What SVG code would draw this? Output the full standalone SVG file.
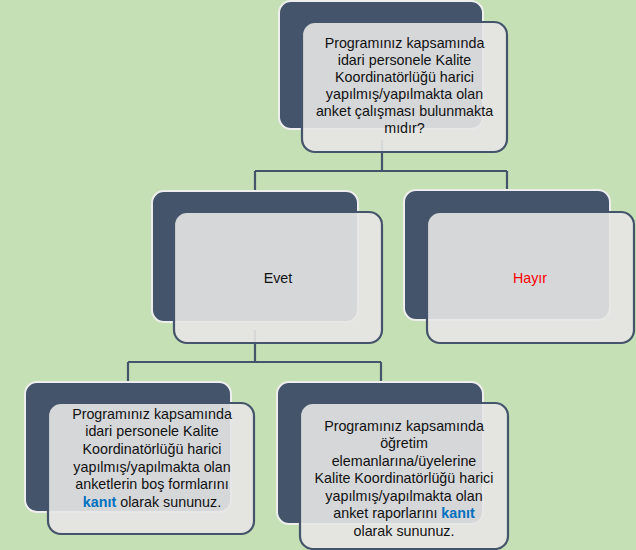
<svg xmlns="http://www.w3.org/2000/svg" width="636" height="550" viewBox="0 0 636 550">
<style>
.bg{fill:#c5e0b4}
.back{fill:#44546a;stroke:#eeeeee;stroke-width:2}
.front{fill:#e7e6e6;fill-opacity:0.9;stroke:#44546a;stroke-width:2.2}
.conn{fill:none;stroke:#44546a;stroke-width:2.2}
text{font-family:"Liberation Sans",Arial,sans-serif;font-size:14.3px;fill:#111;text-anchor:middle}
.k{fill:#0070c0;font-weight:bold}
.red{fill:#ff0000}
</style>
<rect class="bg" x="0" y="0" width="636" height="550"/>
<g id="connectors">
<path class="conn" d="M382,140 V171 M255,171 H507 M255,171 V192 M507,171 V191"/>
<path class="conn" d="M255,330 V362 M128,362 H381 M128,362 V383 M381,362 V383"/>
</g>
<g id="n-root">
<rect class="back" x="279" y="1" width="204" height="128" rx="12"/>
<rect class="front" x="302" y="22" width="205" height="130" rx="13"/>
<text x="404.5" y="47.7">Programınız kapsamında</text>
<text x="404.5" y="64.8">idari personele Kalite</text>
<text x="404.5" y="81.9">Koordinatörlüğü harici</text>
<text x="404.5" y="99">yapılmış/yapılmakta olan</text>
<text x="404.5" y="116.2">anket çalışması bulunmakta</text>
<text x="404.5" y="133.3">mıdır?</text>
</g>
<g id="n-evet">
<rect class="back" x="152" y="191" width="206" height="131" rx="12"/>
<rect class="front" x="174" y="212" width="208" height="131" rx="13"/>
<text x="278" y="283">Evet</text>
</g>
<g id="n-hayir">
<rect class="back" x="404" y="190" width="206" height="130" rx="12"/>
<rect class="front" x="427" y="212" width="207" height="131" rx="13"/>
<text class="red" x="530" y="283">Hayır</text>
</g>
<g id="n-left">
<rect class="back" x="25" y="382" width="206" height="130" rx="12"/>
<rect class="front" x="48" y="403" width="206" height="131" rx="13"/>
<text x="152" y="418.7">Programınız kapsamında</text>
<text x="152" y="436.3">idari personele Kalite</text>
<text x="152" y="453.9">Koordinatörlüğü harici</text>
<text x="152" y="471.5">yapılmış/yapılmakta olan</text>
<text x="152" y="489.1">anketlerin boş formlarını</text>
<text x="152" y="506.7"><tspan class="k">kanıt</tspan> olarak sununuz.</text>
</g>
<g id="n-right">
<rect class="back" x="277" y="382" width="206" height="142" rx="12"/>
<rect class="front" x="300" y="403" width="208" height="146" rx="13"/>
<text x="404" y="430.7">Programınız kapsamında</text>
<text x="404" y="448.2">öğretim</text>
<text x="404" y="465.8">elemanlarına/üyelerine</text>
<text x="404" y="483.3">Kalite Koordinatörlüğü harici</text>
<text x="404" y="500.9">yapılmış/yapılmakta olan</text>
<text x="404" y="518.4">anket raporlarını <tspan class="k">kanıt</tspan></text>
<text x="404" y="536">olarak sununuz.</text>
</g>
</svg>
